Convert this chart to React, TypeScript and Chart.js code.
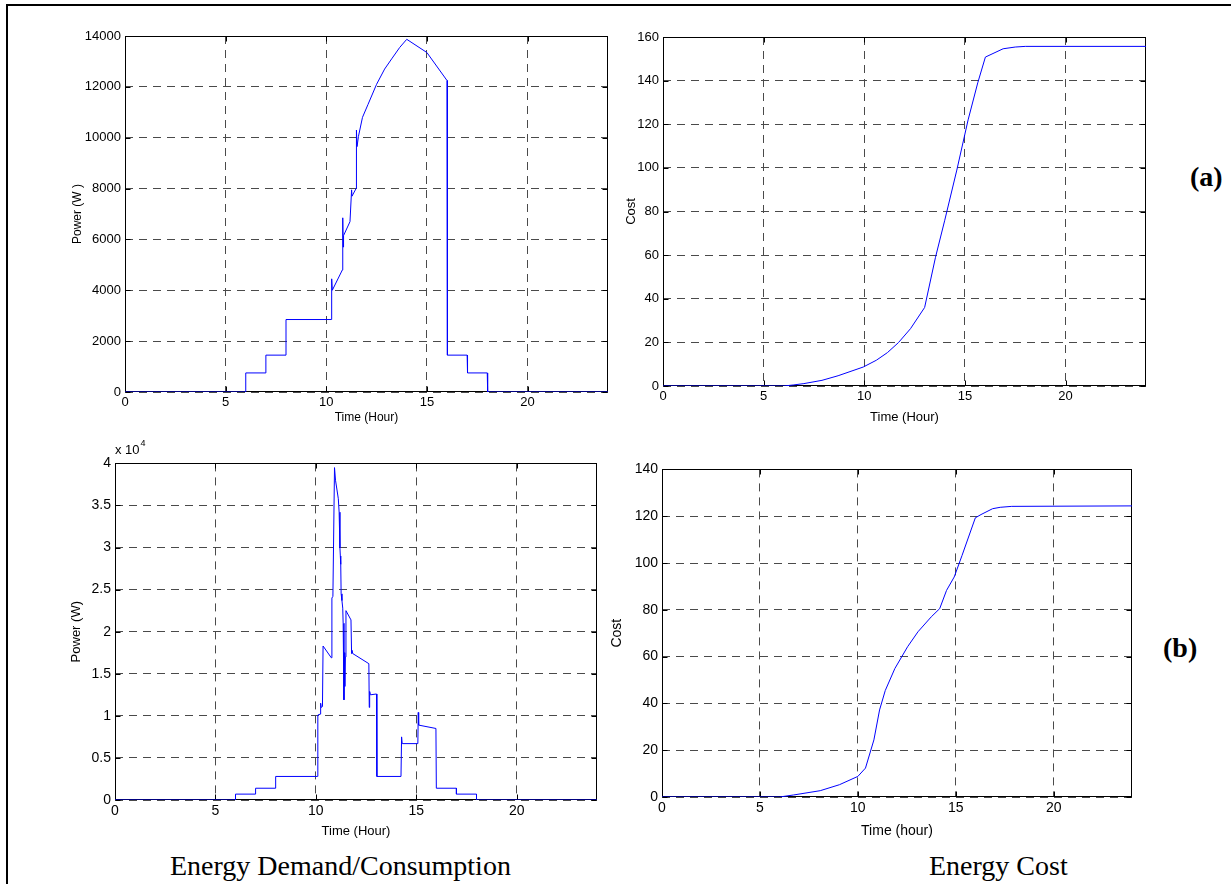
import React, { useEffect, useRef } from "react";
import { Chart, registerables } from "chart.js";

Chart.register(...registerables);

// ---------- data ----------
const hourTicks = [0, 5, 10, 15, 20];
const hourTickLabels = ["0", "5", "10", "15", "20"];

// (a) energy demand, W
const powerATime = [0, 6, 6, 7, 7, 8, 8, 10.25, 10.27, 10.3, 10.8, 10.82, 10.84, 10.86, 11.18, 11.26, 11.28, 11.48, 11.5, 11.53, 11.6, 11.8, 12.07, 12.5, 12.9, 13.25, 13.65, 14.0, 15.0, 16.0, 16.02, 17.0, 17.02, 18.0, 18.02, 24];
const powerAWatts = [0, 0, 750, 750, 1450, 1450, 2850, 2850, 4450, 4000, 4800, 6850, 5700, 6150, 6700, 7950, 7700, 8000, 10300, 9650, 10050, 10800, 11300, 12100, 12700, 13100, 13550, 13870, 13350, 12250, 1450, 1450, 750, 750, 0, 0];

// (a) energy cost
const costATime = [0, 6, 6.5, 7, 7.9, 8.7, 9.95, 10.6, 11.15, 11.7, 12.3, 13.0, 13.54, 14.0, 14.6, 15.16, 15.64, 16.02, 16.9, 17.5, 18.0, 24];
const costAValue = [0, 0, 0.5, 1.1, 2.6, 4.7, 8.7, 11.8, 15.3, 19.9, 26.3, 36, 59, 76, 99, 122, 139, 150.8, 154.6, 155.4, 155.7, 155.7];

// (b) energy demand, W
const powerBTime = [0, 6, 6, 7, 7, 8, 8, 10.08, 10.1, 10.22, 10.24, 10.27, 10.33, 10.36, 10.77, 10.8, 10.85, 10.93, 10.98, 11.12, 11.16, 11.2, 11.22, 11.24, 11.26, 11.3, 11.34, 11.36, 11.4, 11.42, 11.44, 11.47, 11.5, 11.75, 11.78, 11.8, 11.84, 12.64, 12.66, 12.68, 12.72, 13.02, 13.04, 14.24, 14.27, 14.3, 15.08, 15.1, 15.12, 15.98, 16.0, 17.0, 17.0, 18.0, 18.0, 24];
const powerBWatts = [0, 0, 700, 700, 1400, 1400, 2800, 2800, 10100, 10200, 11500, 11000, 11100, 18300, 16900, 24000, 24200, 39500, 38000, 35800, 34200, 30000, 29000, 28000, 24500, 23700, 22800, 21000, 11900, 17500, 13500, 17000, 22500, 21400, 17400, 17800, 17400, 16200, 11000, 12900, 12500, 12600, 2800, 2800, 7500, 6700, 6700, 10400, 8900, 8500, 1400, 1400, 700, 700, 0, 0];

// (b) energy cost
const costBTime = [0, 6, 6.71, 8.08, 9.06, 10.0, 10.39, 10.82, 11.11, 11.4, 11.89, 12.54, 13.07, 13.75, 14.18, 14.53, 14.92, 15.32, 16.0, 16.29, 16.88, 17.27, 17.86, 24];
const costBValue = [0, 0, 0.85, 2.7, 5.25, 8.8, 12.35, 24.4, 37.2, 45.5, 54.9, 64.2, 70.6, 77, 80.5, 88.3, 94, 103.2, 119.3, 120.7, 123.2, 123.8, 124.2, 124.4];

const powerATicks = [0, 2000, 4000, 6000, 8000, 10000, 12000, 14000];
const powerATickLabels = ["0", "2000", "4000", "6000", "8000", "10000", "12000", "14000"];
const costATicks = [0, 20, 40, 60, 80, 100, 120, 140, 160];
const costATickLabels = ["0", "20", "40", "60", "80", "100", "120", "140", "160"];
const powerBTicks = [0, 5000, 10000, 15000, 20000, 25000, 30000, 35000, 40000];
const powerBTickLabels = ["0", "0.5", "1", "1.5", "2", "2.5", "3", "3.5", "4"];
const costBTicks = [0, 20, 40, 60, 80, 100, 120, 140];
const costBTickLabels = ["0", "20", "40", "60", "80", "100", "120", "140"];

// ---------- rendering ----------
const TICK_FONT = "'Liberation Sans Narrow', 'Arial Narrow', 'Liberation Sans', Arial, sans-serif";
const SERIF = "'Liberation Serif', 'Times New Roman', serif";

const boxPlugin = {
  id: "matlabBox",
  beforeDatasetsDraw(chart: any) {
    const { ctx, chartArea: a, scales } = chart;
    const l = Math.round(a.left) + 0.5;
    const t = Math.round(a.top) + 0.5;
    const r = Math.round(a.right) - 0.5;
    const b = Math.round(a.bottom) - 0.5;
    ctx.save();
    ctx.setLineDash([]);
    ctx.strokeStyle = "#000";
    ctx.lineWidth = 1;
    ctx.strokeRect(l, t, r - l, b - t);
    ctx.beginPath();
    scales.x.ticks.forEach((tk: any) => {
      const px = Math.round(scales.x.getPixelForValue(tk.value)) + 0.5;
      ctx.moveTo(px, b);
      ctx.lineTo(px, b - 5);
      ctx.moveTo(px, t);
      ctx.lineTo(px, t + 5);
    });
    scales.y.ticks.forEach((tk: any) => {
      const py = Math.round(scales.y.getPixelForValue(tk.value)) + 0.5;
      ctx.moveTo(l, py);
      ctx.lineTo(l + 5, py);
      ctx.moveTo(r, py);
      ctx.lineTo(r - 5, py);
    });
    ctx.stroke();
    ctx.restore();
  },
};

type PanelSpec = {
  L: number; T: number; R: number; B: number;
  xs: number[]; ys: number[];
  yMax: number; yTicks: number[]; yLabels: string[];
  yTitle: string; yTitleX: number;
  xTitle: string; xTitleY: number;
  tickSize: number; titleSize: number;
};

const YW = 65;
const XH = 45;
const PAD_TOP = 12;
const PAD_RIGHT = 10;

function Panel({ spec }: { spec: PanelSpec }) {
  const ref = useRef<HTMLCanvasElement>(null);
  const cw = spec.R - spec.L + YW + PAD_RIGHT;
  const ch = spec.B - spec.T + PAD_TOP + XH;
  const left = spec.L - YW;
  const top = spec.T - PAD_TOP;

  useEffect(() => {
    if (!ref.current) return;
    const lh = spec.titleSize * 1.2;
    const yPadTop = Math.max(0, spec.yTitleX - left - lh / 2);
    const xPadBottom = Math.max(0, spec.B + XH - spec.xTitleY - lh / 2);
    const gridCommon = { color: "#4a4a4a", lineWidth: 1, drawTicks: false, borderDash: [8, 6] };
    const chart = new Chart(ref.current, {
      type: "line",
      data: {
        datasets: [
          {
            data: spec.xs.map((x, i) => ({ x, y: spec.ys[i] })),
            borderColor: "#0000ff",
            borderWidth: 1,
            pointRadius: 0,
            tension: 0,
            fill: false,
          },
        ],
      },
      options: {
        animation: false,
        responsive: false,
        devicePixelRatio: 1,
        events: [],
        layout: { padding: { top: PAD_TOP, right: PAD_RIGHT, left: 0, bottom: 0 } },
        plugins: { legend: { display: false }, tooltip: { enabled: false } },
        scales: {
          x: {
            type: "linear",
            min: 0,
            max: 24,
            afterBuildTicks: (s: any) => {
              s.ticks = hourTicks.map((v) => ({ value: v }));
            },
            afterFit: (s: any) => {
              s.height = XH;
            },
            grid: gridCommon,
            border: { display: false, dash: [8, 6] },
            ticks: {
              color: "#000",
              padding: 3,
              maxRotation: 0,
              autoSkip: false,
              font: { family: TICK_FONT, size: spec.tickSize },
              callback: (_v: any, i: number) => hourTickLabels[i],
            },
            title: {
              display: true,
              text: spec.xTitle,
              color: "#000",
              font: { family: TICK_FONT, size: spec.titleSize },
              padding: { top: 0, bottom: xPadBottom },
            },
          },
          y: {
            type: "linear",
            min: 0,
            max: spec.yMax,
            afterBuildTicks: (s: any) => {
              s.ticks = spec.yTicks.map((v) => ({ value: v }));
            },
            afterFit: (s: any) => {
              s.width = YW;
            },
            grid: gridCommon,
            border: { display: false, dash: [8, 6] },
            ticks: {
              color: "#000",
              padding: 4,
              autoSkip: false,
              font: { family: TICK_FONT, size: spec.tickSize },
              callback: (_v: any, i: number) => spec.yLabels[i],
            },
            title: {
              display: true,
              text: spec.yTitle,
              color: "#000",
              font: { family: TICK_FONT, size: spec.titleSize },
              padding: { top: yPadTop, bottom: 0 },
            },
          },
        },
      } as any,
      plugins: [boxPlugin],
    });
    return () => chart.destroy();
  }, []);

  return (
    <canvas
      ref={ref}
      width={cw}
      height={ch}
      style={{ position: "absolute", left, top, width: cw, height: ch }}
    />
  );
}

const panels: PanelSpec[] = [
  {
    L: 125, T: 36, R: 608, B: 392,
    xs: powerATime, ys: powerAWatts,
    yMax: 14000, yTicks: powerATicks, yLabels: powerATickLabels,
    yTitle: "Power (W )", yTitleX: 78,
    xTitle: "Time (Hour)", xTitleY: 418,
    tickSize: 13, titleSize: 12,
  },
  {
    L: 663, T: 37, R: 1146, B: 386,
    xs: costATime, ys: costAValue,
    yMax: 160, yTicks: costATicks, yLabels: costATickLabels,
    yTitle: "Cost", yTitleX: 631,
    xTitle: "Time (Hour)", xTitleY: 417,
    tickSize: 13, titleSize: 13,
  },
  {
    L: 115, T: 463, R: 597, B: 800,
    xs: powerBTime, ys: powerBWatts,
    yMax: 40000, yTicks: powerBTicks, yLabels: powerBTickLabels,
    yTitle: "Power (W)", yTitleX: 76,
    xTitle: "Time (Hour)", xTitleY: 831,
    tickSize: 14, titleSize: 13,
  },
  {
    L: 662, T: 469, R: 1132, B: 797,
    xs: costBTime, ys: costBValue,
    yMax: 140, yTicks: costBTicks, yLabels: costBTickLabels,
    yTitle: "Cost", yTitleX: 617,
    xTitle: "Time (hour)", xTitleY: 831,
    tickSize: 14, titleSize: 14,
  },
];

const abs = (extra: React.CSSProperties): React.CSSProperties => ({
  position: "absolute",
  whiteSpace: "nowrap",
  lineHeight: 1,
  margin: 0,
  color: "#000",
  ...extra,
});

export default function App() {
  return (
    <div
      style={{
        position: "absolute",
        left: 0,
        top: 0,
        width: 1231,
        height: 884,
        background: "#fff",
        overflow: "hidden",
      }}
    >
      {/* frame lines */}
      <div style={abs({ left: 6, top: 4, width: 1240, height: 2, background: "#000" })} />
      <div style={abs({ left: 6, top: 4, width: 2, height: 900, background: "#000" })} />

      {panels.map((p, i) => (
        <Panel key={i} spec={p} />
      ))}

      <div style={abs({ left: 115, top: 443, fontFamily: "'Liberation Sans', Arial, sans-serif", fontSize: 13 })}>
        x 10<sup style={{ fontSize: 9, verticalAlign: "top", position: "relative", top: -4, marginLeft: 1 }}>4</sup>
      </div>

      <div style={abs({ left: 1190, top: 163, fontFamily: SERIF, fontSize: 28, fontWeight: "bold" })}>(a)</div>
      <div style={abs({ left: 1163, top: 634, fontFamily: SERIF, fontSize: 28, fontWeight: "bold" })}>(b)</div>

      <div style={abs({ left: 170, top: 852, fontFamily: SERIF, fontSize: 28 })}>Energy Demand/Consumption</div>
      <div style={abs({ left: 929, top: 852, fontFamily: SERIF, fontSize: 28 })}>Energy Cost</div>
    </div>
  );
}
